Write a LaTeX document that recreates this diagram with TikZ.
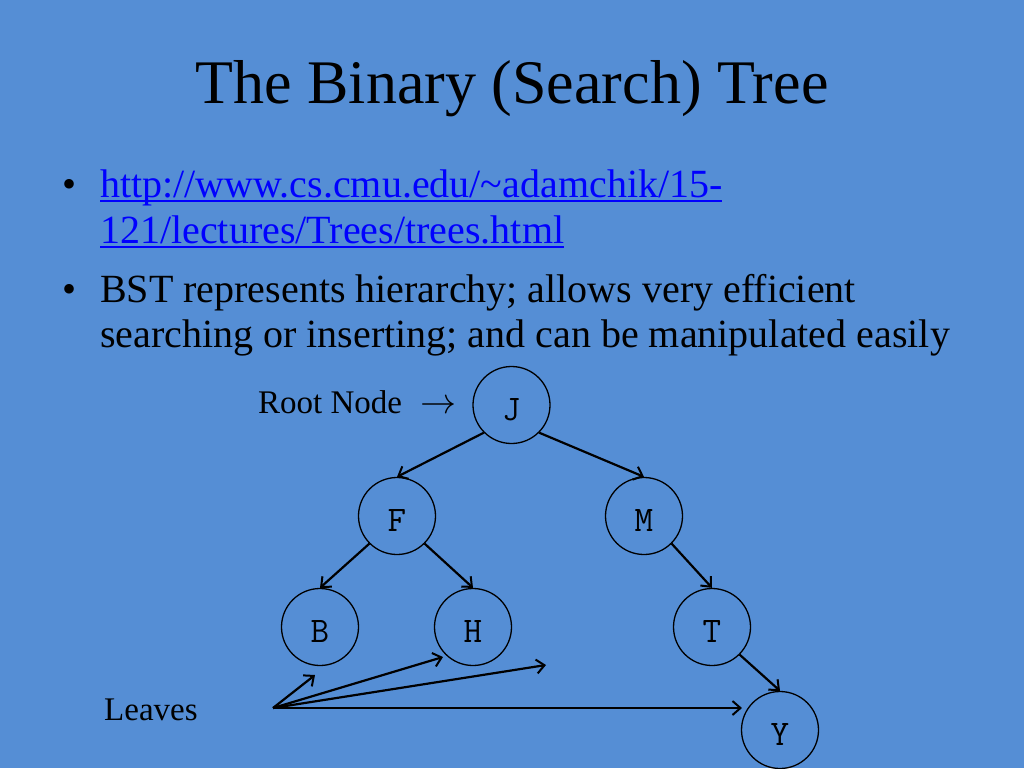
\RequirePackage{fix-cm}
\documentclass[tikz,border=0pt]{standalone}
\usepackage{fontspec}
\setmainfont{Liberation Serif}
\usetikzlibrary{arrows.meta}
\definecolor{bgblue}{RGB}{85,142,213}
\definecolor{linkblue}{RGB}{0,0,255}
\newcommand{\ulinetext}[1]{\setbox0\hbox{#1}\rlap{\rule[-5pt]{\wd0}{1.8pt}}\box0}
\begin{document}
\begin{tikzpicture}[x=1pt,y=-1pt,
  treenode/.style={circle,draw=black,line width=1.3pt,minimum size=77pt,inner sep=0pt,
    text height=30pt,text depth=0pt,font=\ttfamily\fontsize{36}{36}\selectfont},
  edge/.style={line width=2.2pt,-{Straight Barb[length=8pt,width=14pt,line width=2pt]}},
  txt/.style={anchor=base west,inner sep=0pt},
  body/.style={txt,font=\fontsize{40}{40}\selectfont},
  label33/.style={txt,font=\fontsize{33}{33}\selectfont},
]
\fill[bgblue] (0,0) rectangle (1024,768);
\useasboundingbox (0,0) rectangle (1024,768);
% title
\node[anchor=base,inner sep=0pt,font=\fontsize{62}{62}\selectfont] (title) at (512,103) {The Binary (Search) Tree};
% bullets
\node[body] (bul1) at (62,197) {•};
\node[body,text=linkblue] (url1) at (100,197) {\ulinetext{http://www.cs.cmu.edu/\textasciitilde adamchik/15-}};
\node[body,text=linkblue] (url2) at (100,243) {\ulinetext{121/lectures/Trees/trees.html}};
\node[body] (bul2) at (62,302) {•};
\node[body] (bst1) at (100,302) {BST represents hierarchy; allows very efficient};
\node[body] (bst2) at (100,347) {searching or inserting; and can be manipulated easily};
% labels
\node[label33] (rootlbl) at (258,413) {Root Node\hspace{18pt}{\fontsize{36}{36}\selectfont$\rightarrow$}};
\node[label33] (leaves) at (104,720) {Leaves};
% tree
\node[treenode] (J) at (511.5,405) {J};
\node[treenode] (F) at (397,516) {F};
\node[treenode] (M) at (644,516) {M};
\node[treenode] (B) at (320,627) {B};
\node[treenode] (H) at (473,627) {H};
\node[treenode] (T) at (712,627) {T};
\node[treenode] (Y) at (780,730) {Y};
\draw[edge] (J.225) -- (F.north);
\draw[edge] (J.-45) -- (M.north);
\draw[edge] (F.225) -- (B.north);
\draw[edge] (F.-45) -- (H.north);
\draw[edge] (M.-45) -- (T.north);
\draw[edge] (T.-45) -- (Y.north);
% leaves arrows
\coordinate (lv) at (273,708);
\coordinate (l1) at (315,675);
\coordinate (l2) at (443,657);
\coordinate (l3) at (546,665);
\coordinate (l4) at (742,708);
\draw[edge] (lv) -- (l1);
\draw[edge] (lv) -- (l2);
\draw[edge] (lv) -- (l3);
\draw[edge] (lv) -- (l4);
\end{tikzpicture}
\end{document}
